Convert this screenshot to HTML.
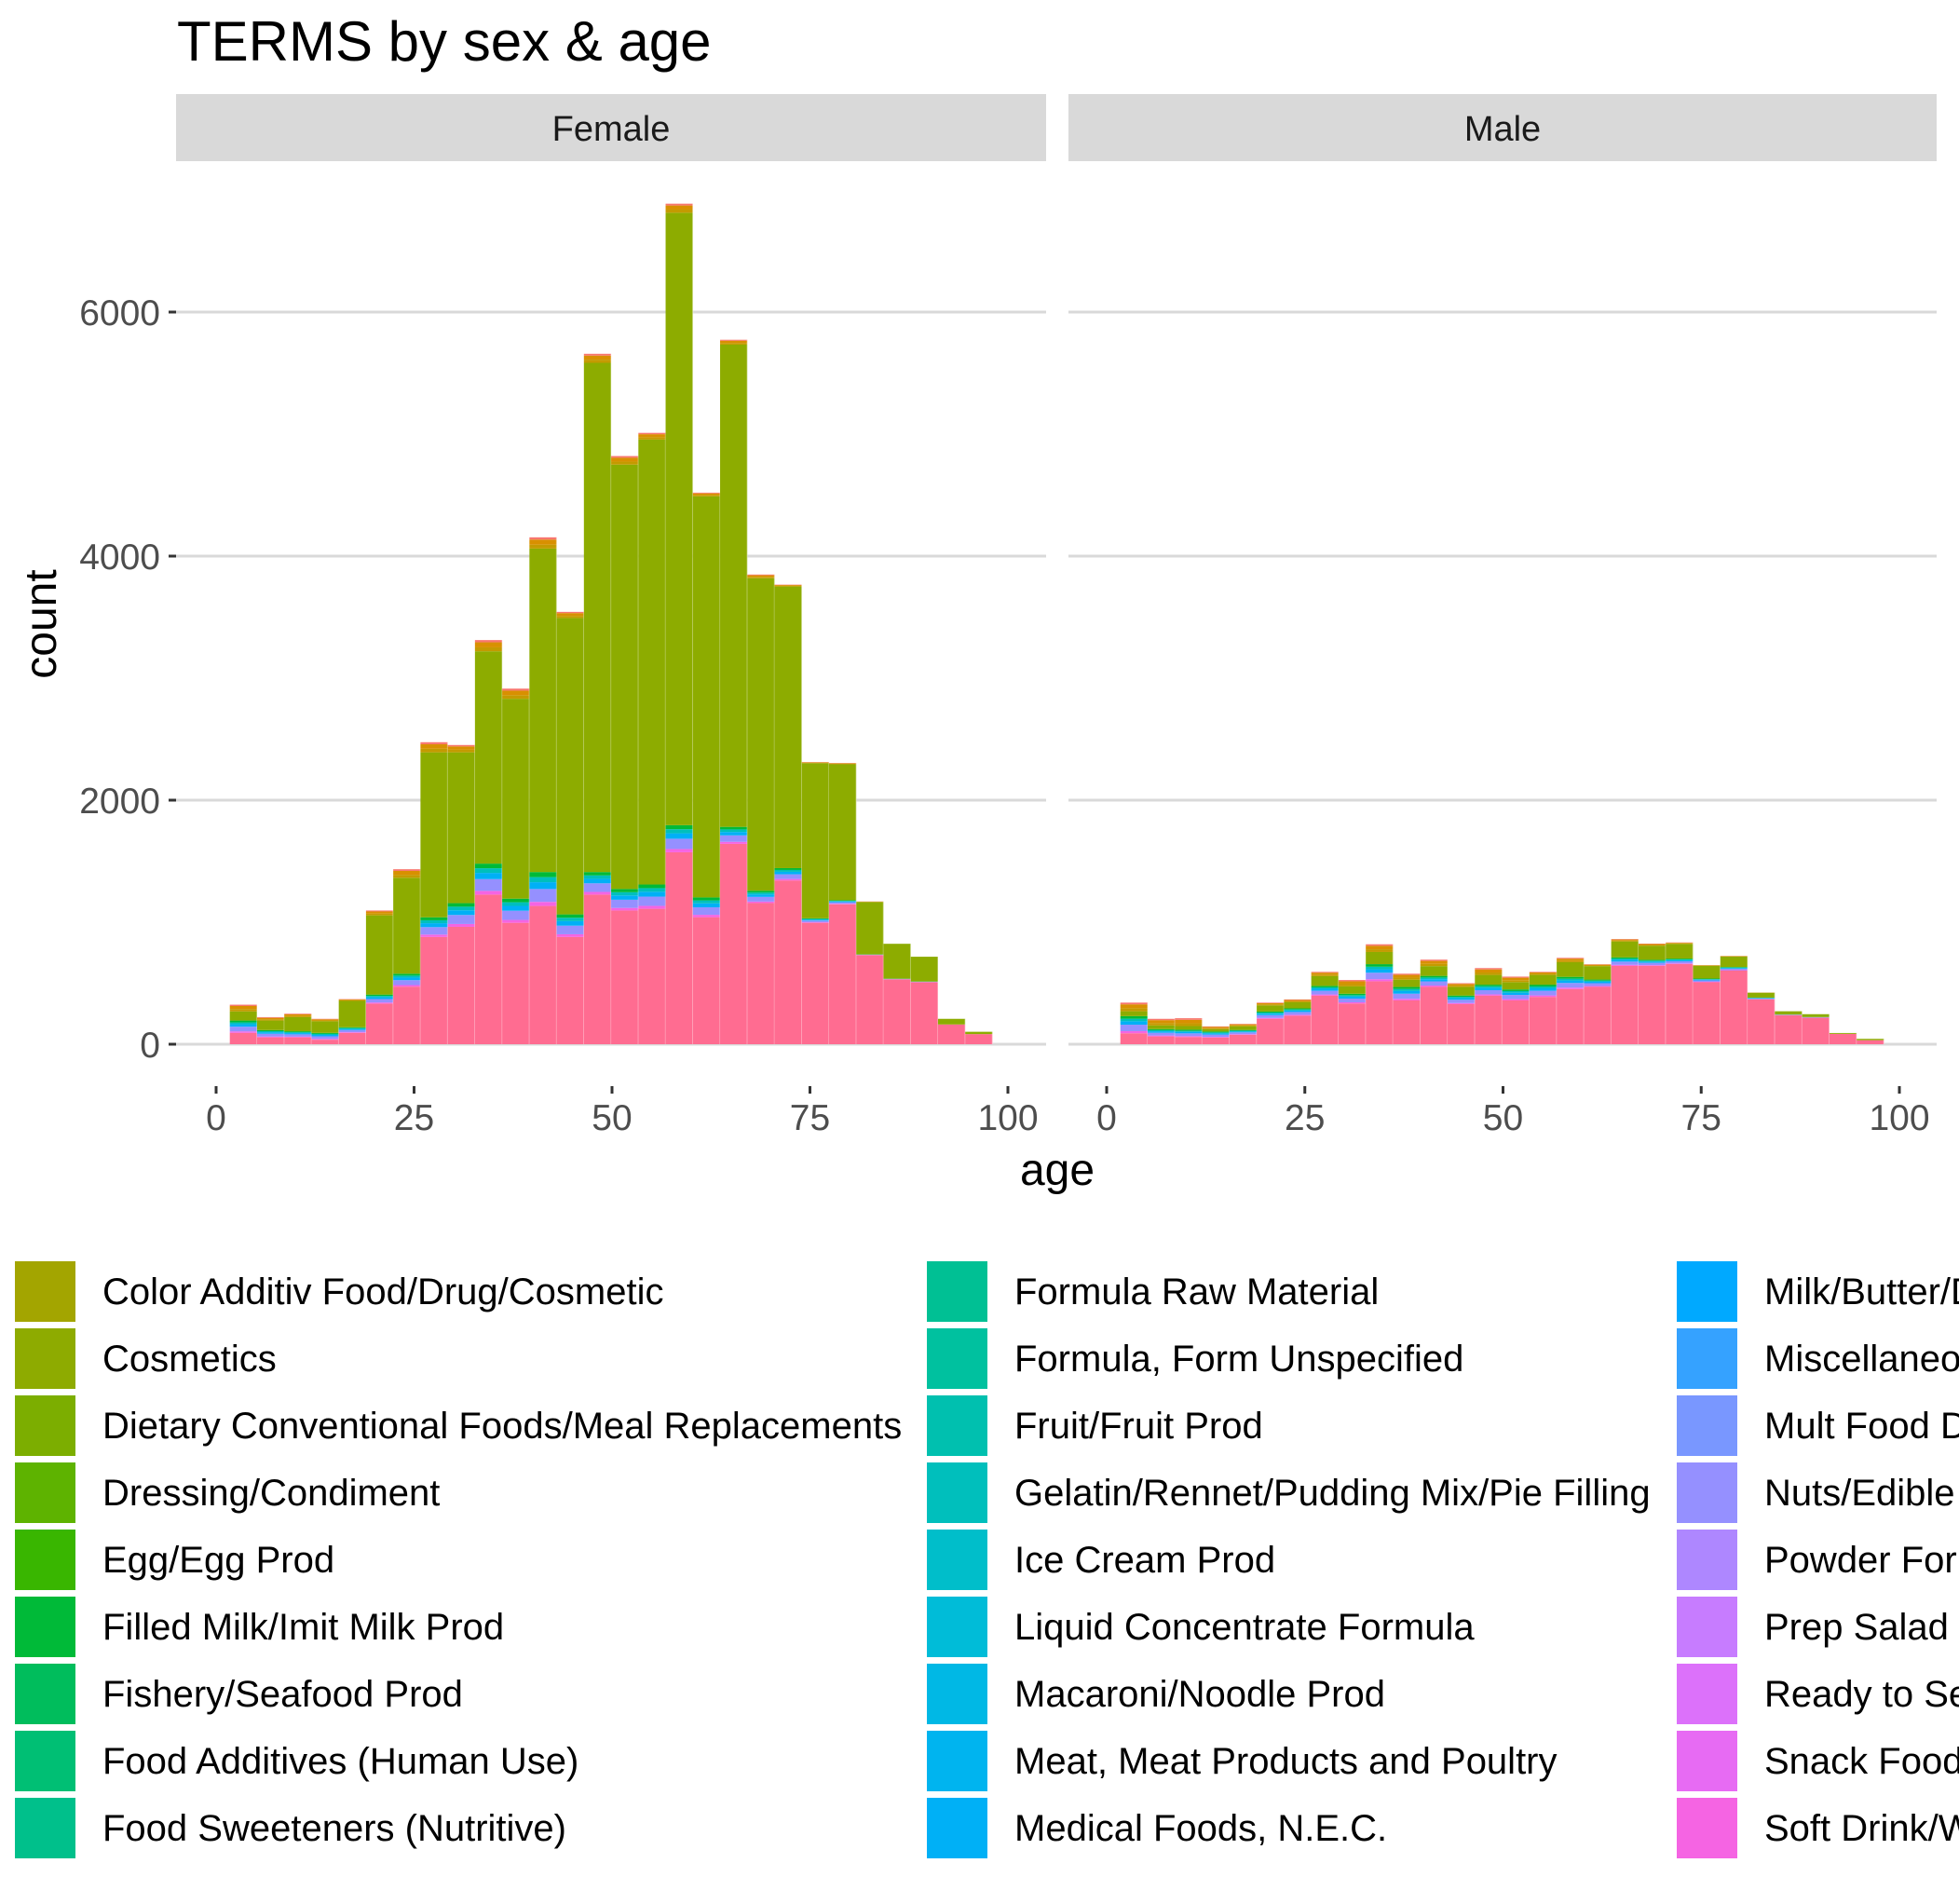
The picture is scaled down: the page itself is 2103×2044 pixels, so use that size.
<!DOCTYPE html>
<html><head><meta charset="utf-8"><style>
html,body{margin:0;padding:0;background:#fff;width:2103px;height:2044px;overflow:hidden}
svg text{font-family:"Liberation Sans",Arial,sans-serif}
</style></head><body>
<svg id="chart" width="2103" height="2044" viewBox="0 0 2103 2044" xmlns="http://www.w3.org/2000/svg">
<rect width="2103" height="2044" fill="#fff"/>
<text x="190" y="65" font-size="60" fill="#000">TERMS by sex &amp; age</text>
<rect x="189" y="101" width="934" height="72" fill="#d9d9d9"/>
<text x="656" y="151" font-size="38" fill="#1a1a1a" text-anchor="middle">Female</text>
<rect x="1147" y="101" width="932" height="72" fill="#d9d9d9"/>
<text x="1613" y="151" font-size="38" fill="#1a1a1a" text-anchor="middle">Male</text>
<g id="grid"></g><g id="bars"></g><g id="axes"></g>
<text x="1135" y="1272" font-size="48" fill="#000" text-anchor="middle">age</text>
<text x="0" y="0" font-size="48" fill="#000" text-anchor="middle" transform="translate(60,670) rotate(-90)">count</text>
<g id="legend"></g>
</svg>
<script>
const NS="http://www.w3.org/2000/svg";
const binStart=1.73, binWidth=3.44;
const yTicks=[0,2000,4000,6000];
const xTicks=[0,25,50,75,100];
const femalePink=[93,56,56,37,93,333,472,879,962,1226,995,1133,879,1226,1096,1110,1573,1041,1642,1157,1342,995,1147,731,532,509,162,83];
const femaleMid=[101,60,50,56,46,74,106,161,194,254,198,278,185,185,176,199,222,162,139,101,101,37,33,5,5,5,0,0];
const femaleTop=[55,28,28,20,15,40,70,83,60,92,83,92,50,74,70,55,74,30,40,30,15,10,10,5,0,0,0,0];
const femaleTotal=[324,222,250,208,370,1096,1434,2475,2452,3312,2914,4154,3543,5658,4820,5010,6888,4520,5773,3849,3766,2313,2304,1170,823,717,208,102];
const malePink=[90,64,59,54,77,208,234,398,334,516,359,470,329,398,359,388,452,470,642,642,657,508,603,367,239,218,85,33];
const maleMid=[140,60,60,50,40,60,60,80,80,140,110,90,70,90,90,100,100,60,70,50,45,30,30,15,5,5,0,0];
const maleGreen=[40,30,30,20,30,50,50,80,60,100,60,80,70,80,60,80,120,110,130,115,120,105,85,40,26,23,7,11];
const maleTop=[71,54,64,22,20,23,23,35,52,63,49,53,31,56,45,25,36,15,20,17,12,6,6,2,0,0,0,0];
const legendLabels=[
["Color Additiv Food/Drug/Cosmetic","Cosmetics","Dietary Conventional Foods/Meal Replacements","Dressing/Condiment","Egg/Egg Prod","Filled Milk/Imit Milk Prod","Fishery/Seafood Prod","Food Additives (Human Use)","Food Sweeteners (Nutritive)"],
["Formula Raw Material","Formula, Form Unspecified","Fruit/Fruit Prod","Gelatin/Rennet/Pudding Mix/Pie Filling","Ice Cream Prod","Liquid Concentrate Formula","Macaroni/Noodle Prod","Meat, Meat Products and Poultry","Medical Foods, N.E.C."],
["Milk/Butter/Dried Milk Prod","Miscellaneous Food Related Items","Mult Food Dinner/Grav/Sauce/Special","Nuts/Edible Seed","Powder Formula","Prep Salad Prod","Ready to Serve Formula","Snack Food Item","Soft Drink/Water"]];
const legendColors=[
["#A3A500","#8EAB00","#7CAE00","#5EB300","#39B600","#00BA38","#00BD5C","#00BF74","#00C08B"],
["#00C094","#00C19F","#00C0AF","#00BFBC","#00BECA","#00BCD8","#00B8E5","#00B4EF","#00B0F6"],
["#00A9FF","#35A2FF","#7997FF","#9590FF","#AE87FF","#C77CFF","#DC71FA","#E76BF3","#F564E3"]];
const Y0=1121, YS=0.1310;
function yPx(v){return Y0-v*YS;}
const panels=[{name:"female",x0:189,w:934,ax:232,k:8.5},{name:"male",x0:1147,w:932,ax:1188,k:8.51}];
function mk(tag,attrs,parent){const e=document.createElementNS(NS,tag);for(const a in attrs)e.setAttribute(a,attrs[a]);parent.appendChild(e);return e;}
const grid=document.getElementById('grid'),bars=document.getElementById('bars'),axes=document.getElementById('axes'),legend=document.getElementById('legend');
panels.forEach(p=>{
  yTicks.forEach(t=>{const l=mk('line',{x1:p.x0,x2:p.x0+p.w,y1:yPx(t),y2:yPx(t),stroke:"#d9d9d9","stroke-width":3},grid);
    
    });
  xTicks.forEach(t=>{const x=p.ax+t*p.k;
    const tk=mk('line',{x1:x,x2:x,y1:1166,y2:1174,stroke:"#333","stroke-width":3},axes);
    
    
    const tx=mk('text',{x:x,y:1213,"font-size":39,fill:"#4d4d4d","text-anchor":"middle"},axes);tx.textContent=t;
    
    });
});
yTicks.forEach(t=>{
  const tk=mk('line',{x1:181,x2:189,y1:yPx(t),y2:yPx(t),stroke:"#333","stroke-width":3},axes);
  
  
  const tx=mk('text',{x:172,y:yPx(t)+14,"font-size":39,fill:"#4d4d4d","text-anchor":"end"},axes);tx.textContent=t;
  
  
});
const midCols=[["#F564E3",0.12],["#9590FF",0.38],["#00B0F6",0.2],["#00BFBC",0.15],["#00BA38",0.15]];
const topCols=[["#C49A00",0.35],["#D89000",0.45],["#F8766D",0.2]];
function drawBar(p,i,layers){
  const x1=p.ax+(binStart+i*binWidth)*p.k, x2=p.ax+(binStart+(i+1)*binWidth)*p.k;
  let base=0;
  layers.forEach(([col,v,nm])=>{ if(v<=0)return;
    const r=mk('rect',{x:x1,width:x2-x1,y:yPx(base+v),height:v*YS,fill:col},bars);
    
    
    base+=v;});
  const o=mk('line',{x1:x2,x2:x2,y1:yPx(base),y2:Y0,stroke:"#ffffff","stroke-opacity":0.35,"stroke-width":1.5},bars);
  
  
}
function layersFor(pink,mid,green,top){
  const L=[["#FF6C91",pink,"pink"]];
  midCols.forEach(([c,f],j)=>L.push([c,mid*f,"mid"+j]));
  L.push(["#8DAC00",green,"green"]);
  topCols.forEach(([c,f],j)=>L.push([c,top*f,"top"+j]));
  return L;
}
femaleTotal.forEach((t,i)=>{const g=Math.max(0,t-femalePink[i]-femaleMid[i]-femaleTop[i]);
  drawBar(panels[0],i,layersFor(femalePink[i],femaleMid[i],g,femaleTop[i]));});
malePink.forEach((p,i)=>drawBar(panels[1],i,layersFor(p,maleMid[i],maleGreen[i],maleTop[i])));
const colKeyX=[16,995,1800], colTextX=[110,1089,1894];
legendLabels.forEach((col,c)=>col.forEach((lab,r)=>{
  const y=1354+r*72;
  const k=mk('rect',{x:colKeyX[c],y:y,width:65,height:65,fill:legendColors[c][r]},legend);
  
  
  const t=mk('text',{x:colTextX[c],y:y+46,"font-size":40,fill:"#000"},legend);t.textContent=lab;
  
  
}));
</script>
</body></html>
